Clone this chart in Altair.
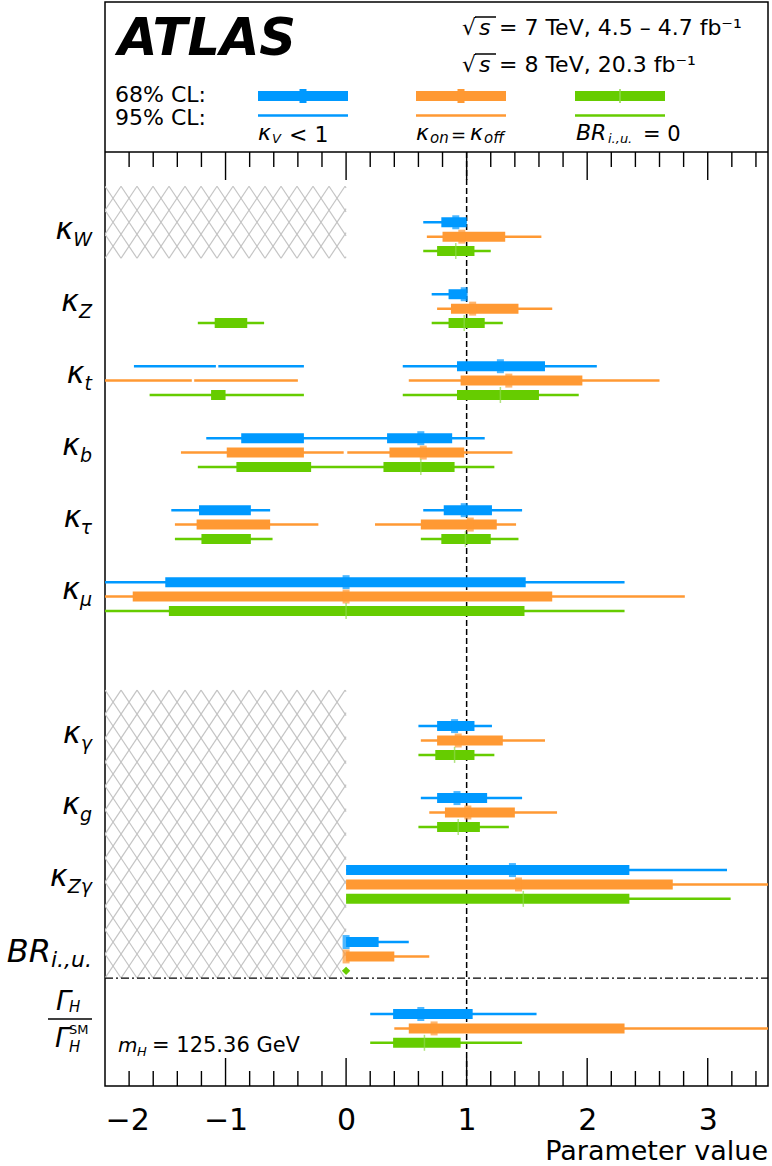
import altair as alt
import numpy as np
import pandas as pd

# ---------------------------------------------------------------------------
# Coupling-modifier fits: best fit and 68% / 95% CL intervals per parameter
# ---------------------------------------------------------------------------
PARAMS = ["kW", "kZ", "kt", "kb", "ktau", "kmu", "kgamma", "kg", "kZgamma", "BRiu", "GammaH"]
BLOCK = [0, 1, 2, 3, 4, 5, 7, 8, 9, 10, 11]          # vertical slot of each parameter
LABEL_MAIN = ["κ", "κ", "κ", "κ", "κ", "κ", "κ", "κ", "κ", "BR", "Γ"]
LABEL_SUB = ["W", "Z", "t", "b", "τ", "μ", "γ", "g", "Zγ", "i.,u.", "H"]

SERIES = ["kV<1", "kon=koff", "BRiu=0"]
COLORS = ["#0099ff", "#ff9933", "#66cc00"]

BEST_KV = [0.91, 0.98, 1.28, 0.62, 0.98, 0.00, 0.90, 0.92, 1.38, 0.00, 0.62]
BEST_ON = [0.96, 1.05, 1.35, 0.64, 1.03, 0.00, 0.93, 1.01, 1.43, 0.00, 0.73]
BEST_BR = [0.91, 0.98, 1.28, 0.62, 0.99, 0.00, 0.90, 0.93, 1.47, 0.00, 0.65]

CL68_KV = [
    [(0.79, 1.00)], [(0.85, 1.00)], [(0.92, 1.65)],
    [(-0.87, -0.35), (0.34, 0.88)], [(-1.22, -0.79), (0.81, 1.21)],
    [(-1.50, 1.49)], [(0.755, 1.065)], [(0.755, 1.17)],
    [(0.0, 2.35)], [(0.0, 0.27)], [(0.39, 1.05)],
]
CL95_KV = [
    [(0.64, 1.00)], [(0.71, 1.00)], [(-1.76, -1.08), (-1.06, -0.35), (0.47, 2.08)],
    [(-1.16, 1.15)], [(-1.45, -0.63), (0.64, 1.46)],
    [(-2.0, 2.31)], [(0.60, 1.21)], [(0.62, 1.46)],
    [(0.0, 3.16)], [(0.0, 0.52)], [(0.20, 1.58)],
]
CL68_ON = [
    [(0.80, 1.32)], [(0.87, 1.43)], [(0.95, 1.96)],
    [(-0.99, -0.35), (0.36, 0.98)], [(-1.24, -0.63), (0.62, 1.25)],
    [(-1.77, 1.71)], [(0.755, 1.30)], [(0.82, 1.40)],
    [(0.0, 2.71)], [(0.0, 0.40)], [(0.52, 2.31)],
]
CL95_ON = [
    [(0.67, 1.62)], [(0.755, 1.71)], [(-2.0, -1.28), (-1.26, -0.40), (0.52, 2.60)],
    [(-1.37, -0.02), (0.01, 1.38)], [(-1.42, -0.23), (0.24, 1.41)],
    [(-2.0, 2.81)], [(0.62, 1.65)], [(0.69, 1.75)],
    [(0.0, 3.6)], [(0.0, 0.69)], [(0.40, 3.6)],
]
CL68_BR = [
    [(0.755, 1.065)], [(-1.09, -0.82), (0.85, 1.15)], [(-1.12, -1.00), (0.92, 1.60)],
    [(-0.91, -0.29), (0.31, 0.90)], [(-1.20, -0.79), (0.79, 1.20)],
    [(-1.47, 1.48)], [(0.74, 1.065)], [(0.755, 1.11)],
    [(0.0, 2.35)], [], [(0.39, 0.95)],
]
CL95_BR = [
    [(0.64, 1.20)], [(-1.23, -0.68), (0.71, 1.30)], [(-1.63, -0.35), (0.47, 1.93)],
    [(-1.23, 1.23)], [(-1.42, -0.61), (0.62, 1.43)],
    [(-2.0, 2.31)], [(0.60, 1.23)], [(0.60, 1.35)],
    [(0.0, 3.19)], [], [(0.20, 1.46)],
]
# parameters whose value is bounded to be non-negative (hatched region x < 0)
HATCHED_BLOCKS = [(0, 0), (7, 10)]

X_TICKS = [-2, -1, 0, 1, 2, 3]

# ---------------------------------------------------------------------------
# Geometry
# ---------------------------------------------------------------------------
W, H = 663, 1084
X_LO, X_HI = -2.0, 3.5
Y_LO, Y_HI = -15.3, 60.0
ROWS_PER_BLOCK = 5
PX_PER_X = W / (X_HI - X_LO)
PX_PER_ROW = H / (Y_HI - Y_LO)
FONT = "DejaVu Sans"

XS = alt.Scale(domain=[X_LO, X_HI], nice=False, zero=False)
YS = alt.Scale(domain=[Y_LO, Y_HI], nice=False, zero=False, reverse=True)
XAXIS = alt.Axis(
    values=X_TICKS, format="d", labelExpr="replace(datum.label, '-', '−')",
    ticks=False, tickSize=0, domain=False, grid=False, labelPadding=19,
    labelFontSize=30, labelFont=FONT, labelColor="black", title=None,
)


def X(field):
    return alt.X(field, scale=XS, axis=XAXIS, title=None)


def Y(field):
    return alt.Y(field, scale=YS, axis=None, title=None)


# long tables for intervals and best fits
best_lists = [BEST_KV, BEST_ON, BEST_BR]
cl68_lists = [CL68_KV, CL68_ON, CL68_BR]
cl95_lists = [CL95_KV, CL95_ON, CL95_BR]

rows68, rows95, rows_best = [], [], []
for s, name in enumerate(SERIES):
    for p, param in enumerate(PARAMS):
        row = BLOCK[p] * ROWS_PER_BLOCK + s
        for lo, hi in cl68_lists[s][p]:
            rows68.append({"param": param, "series": name, "lo": lo, "hi": hi, "row": row})
        for lo, hi in cl95_lists[s][p]:
            rows95.append({"param": param, "series": name, "lo": lo, "hi": hi, "row": row})
        rows_best.append({"param": param, "series": name, "best": best_lists[s][p], "row": row})
df68 = pd.DataFrame(rows68)
df95 = pd.DataFrame(rows95)
dfbest = pd.DataFrame(rows_best)

color = alt.Color("series:N", scale=alt.Scale(domain=SERIES, range=COLORS), legend=None)


# cross-hatch segments for the excluded x < 0 regions
def hatch(x0, x1, r0, r1, step=16.0, slope=1.5):
    w = (x1 - x0) * PX_PER_X
    h = (r1 - r0) * PX_PER_ROW
    segs = []
    cs = np.arange(-h / slope - step, w + h / slope + step, step)
    for sgn in (1, -1):
        for c in cs:
            xa, xb = c, c + sgn * h / slope
            if xb == xa:
                continue
            t0 = (0 - xa) / (xb - xa)
            t1 = (w - xa) / (xb - xa)
            tlo, thi = max(0.0, min(t0, t1)), min(1.0, max(t0, t1))
            if thi - tlo < 1e-6:
                continue
            pa = (xa + tlo * (xb - xa), tlo * h)
            pb = (xa + thi * (xb - xa), thi * h)
            segs.append({
                "hx": x0 + pa[0] / PX_PER_X, "hy": r0 + pa[1] / PX_PER_ROW,
                "hx2": x0 + pb[0] / PX_PER_X, "hy2": r0 + pb[1] / PX_PER_ROW,
            })
    return segs


hatch_rows = []
for b0, b1 in HATCHED_BLOCKS:
    hatch_rows += hatch(X_LO, 0.0, b0 * ROWS_PER_BLOCK - 2.5, b1 * ROWS_PER_BLOCK + 2.5)
dfhatch = pd.DataFrame(hatch_rows)

layers = []

layers.append(
    alt.Chart(dfhatch).mark_rule(color="#c4c4c4", strokeWidth=1.2, clip=True).encode(
        x=X("hx:Q"), y=Y("hy:Q"), x2="hx2:Q", y2="hy2:Q"
    )
)

# vertical SM reference line at 1
layers.append(
    alt.Chart(pd.DataFrame({"ref": [1.0]})).mark_rule(
        color="black", strokeWidth=1.5, strokeDash=[6, 3]
    ).encode(x=X("ref:Q"), y=alt.value(150), y2=alt.value(H))
)

# separator between coupling modifiers and the width ratio
sep_row = BLOCK[PARAMS.index("BRiu")] * ROWS_PER_BLOCK + 2.5
layers.append(
    alt.Chart(pd.DataFrame({"sep": [sep_row]})).mark_rule(
        color="black", strokeWidth=1.3, strokeDash=[8, 3, 2, 3]
    ).encode(y=Y("sep:Q"), x=alt.value(0), x2=alt.value(W))
)

# 95% CL thin lines, 68% CL thick bars
layers.append(
    alt.Chart(df95).mark_rule(strokeWidth=2.5, clip=True).encode(
        x=X("lo:Q"), x2="hi:Q", y=Y("row:Q"), color=color
    )
)
layers.append(
    alt.Chart(df68).mark_rule(strokeWidth=10, clip=True).encode(
        x=X("lo:Q"), x2="hi:Q", y=Y("row:Q"), color=color
    )
)

# best-fit markers
layers.append(
    alt.Chart(dfbest[dfbest.series != "BRiu=0"]).mark_tick(
        orient="vertical", thickness=7, size=14, clip=True
    ).encode(x=X("best:Q"), y=Y("row:Q"), color=color)
)
layers.append(
    alt.Chart(dfbest[(dfbest.series == "BRiu=0") & (dfbest.param != "BRiu")]).mark_tick(
        orient="vertical", thickness=1.5, size=16, color="#8fd94a", clip=True
    ).encode(x=X("best:Q"), y=Y("row:Q"))
)
layers.append(
    alt.Chart(dfbest[(dfbest.series == "BRiu=0") & (dfbest.param == "BRiu")]).mark_point(
        shape="diamond", filled=True, size=70, color=COLORS[2], opacity=1
    ).encode(x=X("best:Q"), y=Y("row:Q"))
)

# frame line under the key box and inward ticks top / bottom
layers.append(
    alt.Chart(pd.DataFrame({"a": [0]})).mark_rule(color="black", strokeWidth=1.5).encode(
        x=alt.value(0), x2=alt.value(W), y=alt.value(150)
    )
)
tick_vals = np.round(np.arange(-1.8, 3.41, 0.2), 1)
dft = pd.DataFrame({"tick": tick_vals})
dft["major"] = np.isclose(dft.tick, np.round(dft.tick))
for sub, length in ((dft[dft.major], 28), (dft[~dft.major], 15)):
    layers.append(
        alt.Chart(sub).mark_rule(color="black", strokeWidth=1.4).encode(
            x=X("tick:Q"), y=alt.value(150), y2=alt.value(150 + length)
        )
    )
    layers.append(
        alt.Chart(sub).mark_rule(color="black", strokeWidth=1.4).encode(
            x=X("tick:Q"), y=alt.value(H), y2=alt.value(H - length)
        )
    )


# ---------------------------------------------------------------------------
# Row labels
# ---------------------------------------------------------------------------
GLYPH_W = {"W": 0.989, "Z": 0.685, "t": 0.392, "b": 0.635, "τ": 0.56, "μ": 0.636,
           "γ": 0.592, "g": 0.635, "i": 0.278, ".": 0.318, ",": 0.318, "u": 0.634, "H": 0.752}


def text_width(s, size):
    return sum(GLYPH_W.get(ch, 0.6) for ch in s) * size


def label_text(row, txt, xpx, size, dy, align="right", italic=True):
    return alt.Chart(pd.DataFrame({"row": [row], "txt": [txt]})).mark_text(
        align=align, baseline="alphabetic", font=FONT, fontSize=size, dy=dy,
        fontStyle="italic" if italic else "normal", color="black",
    ).encode(x=alt.value(xpx), y=Y("row:Q"), text="txt:N")


RIGHT = -13
for p, param in enumerate(PARAMS):
    mid = BLOCK[p] * ROWS_PER_BLOCK + 1
    main, sub = LABEL_MAIN[p], LABEL_SUB[p]
    if param == "GammaH":
        layers.append(label_text(mid, "Γ", -34, 27, -18))
        layers.append(label_text(mid, "H", -36, 15, -16, align="left"))
        layers.append(label_text(mid, "Γ", -35, 27, 19))
        layers.append(label_text(mid, "SM", -36, 13, 6, align="left", italic=False))
        layers.append(label_text(mid, "H", -36, 15, 24, align="left"))
        continue
    if param == "BRiu":
        sw = text_width(sub, 22)
        layers.append(label_text(mid, main, RIGHT - sw, 32, 5.5))
        layers.append(label_text(mid, sub, RIGHT, 22, 10.5))
        continue
    sw = text_width(sub, 19)
    layers.append(label_text(mid, main, RIGHT - sw, 30, 2))
    layers.append(label_text(mid, sub, RIGHT, 19, 9))

# fraction bar of the width ratio
layers.append(
    alt.Chart(pd.DataFrame({"a": [0]})).mark_rule(color="black", strokeWidth=1.5).encode(
        x=alt.value(-57), x2=alt.value(-13), y=alt.value(1017)
    )
)


# ---------------------------------------------------------------------------
# Header box: experiment, datasets and key
# ---------------------------------------------------------------------------
def free_text(txt, x, y, size, italic=False, bold=False, align="left"):
    return alt.Chart(pd.DataFrame({"txt": [txt]})).mark_text(
        align=align, baseline="alphabetic", font=FONT, fontSize=size,
        fontStyle="italic" if italic else "normal",
        fontWeight="bold" if bold else "normal", color="black",
    ).encode(x=alt.value(x), y=alt.value(y), text="txt:N")


layers.append(free_text("ATLAS", 13, 53, 51, italic=True, bold=True))

for base, rest in ((33, "= 7 TeV, 4.5 – 4.7 fb⁻¹"), (70, "= 8 TeV, 20.3 fb⁻¹")):
    layers.append(free_text("√", 357, base, 22))
    layers.append(free_text("s", 374, base, 22, italic=True))
    layers.append(free_text(rest, 394, base, 22))
    layers.append(
        alt.Chart(pd.DataFrame({"a": [0]})).mark_rule(color="black", strokeWidth=1.5).encode(
            x=alt.value(370), x2=alt.value(391), y=alt.value(base - 18)
        )
    )

layers.append(free_text("68% CL:", 10, 100, 22))
layers.append(free_text("95% CL:", 10, 123, 22))

KEY_X = [153, 311, 470]
for col, x0, s in zip(COLORS, KEY_X, SERIES):
    layers.append(
        alt.Chart(pd.DataFrame({"a": [0]})).mark_rule(color=col, strokeWidth=10).encode(
            x=alt.value(x0), x2=alt.value(x0 + 90), y=alt.value(94)
        )
    )
    layers.append(
        alt.Chart(pd.DataFrame({"a": [0]})).mark_rule(color=col, strokeWidth=2.5).encode(
            x=alt.value(x0), x2=alt.value(x0 + 90), y=alt.value(113.5)
        )
    )
    mark_w = 1.5 if s == "BRiu=0" else 7
    mark_c = "#8fd94a" if s == "BRiu=0" else col
    layers.append(
        alt.Chart(pd.DataFrame({"a": [0]})).mark_rule(color=mark_c, strokeWidth=mark_w).encode(
            x=alt.value(x0 + 45), y=alt.value(87), y2=alt.value(101)
        )
    )

# key captions
layers.append(free_text("κ", 153, 138, 22, italic=True))
layers.append(free_text("V", 167, 141, 13, italic=True))
layers.append(free_text("< 1", 184, 140, 22))

layers.append(free_text("κ", 311, 138, 22, italic=True))
layers.append(free_text("on", 325, 141, 15, italic=True))
layers.append(free_text("=", 346, 139, 18))
layers.append(free_text("κ", 365, 138, 22, italic=True))
layers.append(free_text("off", 379, 141, 15, italic=True))

layers.append(free_text("BR", 471, 138, 22, italic=True))
layers.append(free_text("i.,u.", 503, 141, 13, italic=True))
layers.append(free_text("= 0", 538, 139, 21))

# Higgs mass annotation
layers.append(free_text("m", 13, 1050, 20, italic=True))
layers.append(free_text("H", 32, 1054, 13, italic=True))
layers.append(free_text("= 125.36 GeV", 47, 1050, 21))

# axis title
layers.append(free_text("Parameter value", W, 1158, 27, align="right"))

chart = alt.layer(*layers).properties(
    width=W, height=H,
    autosize=alt.AutoSizeParams(type="none"),
    padding={"left": 105, "top": 2, "right": 4, "bottom": 80},
    background="white",
).configure_view(stroke="black", strokeWidth=1.5)

chart.save("out.html", embed_options={"renderer": "svg", "actions": False})
